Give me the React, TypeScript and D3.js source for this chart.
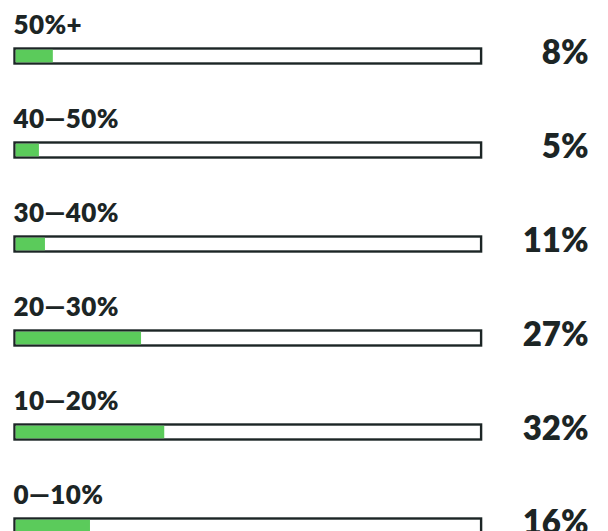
import React from "react";
import * as d3 from "d3";

const categories = ["50%+", "40—50%", "30—40%", "20—30%", "10—20%", "0—10%"];
const shareLabels = ["8%", "5%", "11%", "27%", "32%", "16%"];
// bar lengths as drawn in the picture (the 30—40% bar is drawn shorter than its 11% label)
const barValues = [8, 5, 6.3, 27, 32, 16];

const W = 608;
const H = 531;
const INK = "#1c2525";
const GREEN = "#5bcb5b";
const FONT = "Lato, 'Noto Sans', sans-serif";

export default function App() {
  const stroke = 2.4;
  const outerLeft = 13.3;
  const outerRight = 482.3;
  const outerH = 17.4;
  const innerLeft = outerLeft + stroke;
  const innerRight = outerRight - stroke;
  const x = d3.scaleLinear().domain([0, 100]).range([innerLeft, innerRight]);
  const y = d3
    .scaleBand<string>()
    .domain(categories)
    .range([47.3, 47.3 + 94 * categories.length])
    .paddingInner(0)
    .paddingOuter(0);

  return (
    <svg
      width={W}
      height={H}
      viewBox={`0 0 ${W} ${H}`}
      style={{ position: "absolute", left: 0, top: 0, display: "block", background: "#fff" }}
    >
      {categories.map((c, i) => {
        const top = y(c)!;
        return (
          <g key={c}>
            <text
              x={13.5}
              y={top - 13.5}
              fontFamily={FONT}
              fontWeight={800}
              fontSize={26}
              letterSpacing={0.4}
              fill={INK}
            >
              {c}
            </text>
            <rect
              x={outerLeft + stroke / 2}
              y={top + stroke / 2}
              width={outerRight - outerLeft - stroke}
              height={outerH - stroke}
              fill="#fff"
              stroke={INK}
              strokeWidth={stroke}
            />
            <rect
              x={innerLeft}
              y={top + stroke}
              width={x(barValues[i]) - innerLeft}
              height={outerH - 2 * stroke}
              fill={GREEN}
            />
            <text
              x={588.5}
              y={top + 16.5}
              textAnchor="end"
              fontFamily={FONT}
              fontWeight={800}
              fontSize={33}
              fill={INK}
            >
              {shareLabels[i]}
            </text>
          </g>
        );
      })}
    </svg>
  );
}
